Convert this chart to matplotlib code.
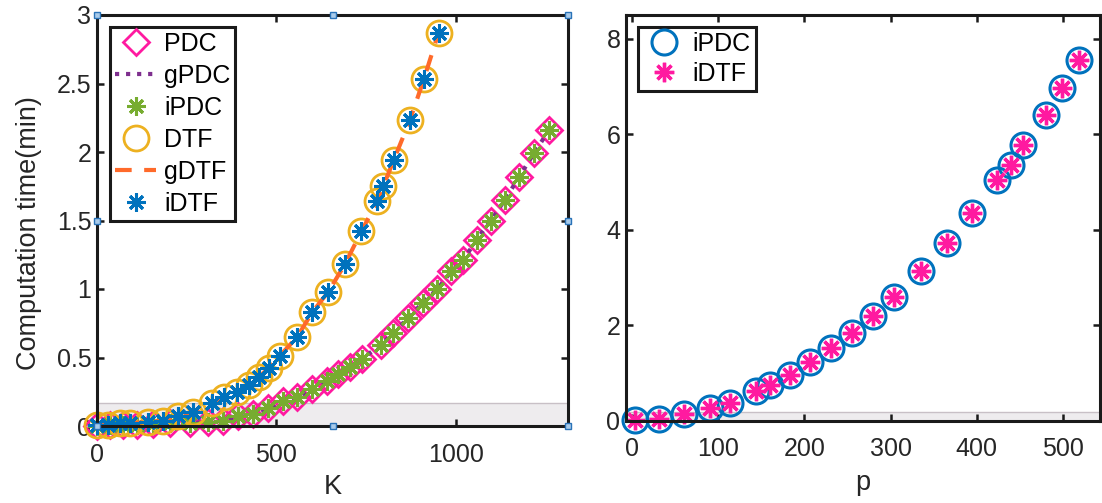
import matplotlib
matplotlib.use("Agg")
import matplotlib.pyplot as plt
from matplotlib.patches import Rectangle

plt.rcParams['font.family'] = ['Liberation Sans', 'DejaVu Sans']

# ---- Left panel data (K vs computation time, min) ----
K_pdc = [0, 36, 73, 111, 157, 204, 259, 310, 352, 394, 436, 478, 518, 557, 598,
         640, 673, 705, 738, 791, 826, 868, 908, 949, 988, 1021, 1058, 1098, 1137,
         1177, 1218, 1260]
t_pdc = [0.0, 0.005, 0.01, 0.01, 0.015, 0.02, 0.02, 0.03, 0.04, 0.07, 0.09, 0.13,
         0.18, 0.21, 0.27, 0.33, 0.38, 0.43, 0.49, 0.59, 0.68, 0.79, 0.90, 1.00,
         1.13, 1.21, 1.36, 1.50, 1.65, 1.82, 1.99, 2.16]

K_dtf = [0, 31, 64, 92, 143, 185, 227, 269, 320, 353, 390, 423, 451, 479, 509,
         558, 600, 645, 691, 737, 781, 798, 827, 872, 911, 952]
t_dtf = [0.01, 0.01, 0.02, 0.02, 0.03, 0.04, 0.07, 0.10, 0.17, 0.21, 0.25, 0.30,
         0.36, 0.42, 0.51, 0.65, 0.83, 0.98, 1.18, 1.42, 1.64, 1.75, 1.94, 2.23,
         2.53, 2.87]

# ---- Right panel data (p vs computation time, min) ----
p_vals = [4, 31, 60, 90, 114, 144, 160, 183, 207, 231, 255, 280, 304, 335, 365,
          394, 424, 440, 454, 480, 499, 519]
t_p = [0.02, 0.04, 0.13, 0.26, 0.37, 0.61, 0.74, 0.96, 1.22, 1.52, 1.84, 2.19,
       2.59, 3.13, 3.73, 4.36, 5.04, 5.36, 5.78, 6.41, 6.97, 7.56]

left_yticks = [0, 0.5, 1, 1.5, 2, 2.5, 3]
left_yticklabels = ['0', '0.5', '1', '1.5', '2', '2.5', '3']
left_xticks = [0, 500, 1000]
right_xticks = [0, 100, 200, 300, 400, 500]
right_yticks = [0, 2, 4, 6, 8]

C_PINK = '#FF1AA0'
C_PURPLE = '#7E2F8E'
C_GREEN = '#77AC30'
C_GOLD = '#EDB120'
C_ORANGE = '#FF6A2A'
C_BLUE = '#0072BD'
TXT = '#262626'
FS = 18
FSL = 19.5

fig = plt.figure(figsize=(11.02, 5.03), dpi=100)
ax1 = fig.add_axes([97/1102, 1-426/503, 471/1102, 411/503])
ax2 = fig.add_axes([626/1102, 1-420.5/503, 474/1102, 405.5/503])

AST = (8, 2, 0)

# left panel
ax1.plot(K_pdc, t_pdc, linestyle='none', marker='D', ms=13.5, mfc='none', mec=C_PINK,
         mew=2, label='PDC', clip_on=False, zorder=3)
ax1.plot(K_pdc, t_pdc, linestyle=':', color=C_PURPLE, lw=3, label='gPDC', zorder=4)
ax1.plot(K_pdc, t_pdc, linestyle='none', marker=AST, ms=13, mec=C_GREEN, mew=2.2,
         label='iPDC', clip_on=False, zorder=5)
ax1.plot(K_dtf, t_dtf, linestyle='none', marker='o', ms=18, mfc='none', mec=C_GOLD,
         mew=2, label='DTF', clip_on=False, zorder=6)
ax1.plot(K_dtf, t_dtf, linestyle=(0, (4, 3)), color=C_ORANGE, lw=3, label='gDTF', zorder=7)
ax1.plot(K_dtf, t_dtf, linestyle='none', marker=AST, ms=13, mec=C_BLUE, mew=2.2,
         label='iDTF', clip_on=False, zorder=8)

ax1.set_xlim(0, 1313)
ax1.set_ylim(0, 3)
ax1.add_patch(Rectangle((0, 0), 1313, 0.165, facecolor='#EEECEE', edgecolor='#C8C0C6',
                        lw=1, zorder=1))
ax1.set_xticks(left_xticks)
ax1.set_yticks(left_yticks)
ax1.set_yticklabels(left_yticklabels)
ax1.set_xlabel('K', fontsize=FSL, color=TXT, va='center')
ax1.set_ylabel('Computation time(min)', fontsize=FSL, color=TXT, va='center')
ax1.xaxis.set_label_coords(0.5, (426 - 487) / 411)
ax1.yaxis.set_label_coords((29 - 97) / 471, 0.47)

leg1 = ax1.legend(loc='upper left', bbox_to_anchor=(0.028, 0.972), fontsize=FS,
                  frameon=True, fancybox=False, edgecolor='#1a1a1a', framealpha=1,
                  handlelength=1.65, handletextpad=0.3, labelspacing=0.32,
                  borderpad=0.2, borderaxespad=0)
leg1.get_frame().set_linewidth(2.2)

# right panel
ax2.plot(p_vals, t_p, linestyle='none', marker='o', ms=18, mfc='none', mec=C_BLUE,
         mew=2.2, label='iPDC', clip_on=False, zorder=3)
ax2.plot(p_vals, t_p, linestyle='none', marker=AST, ms=14, mec=C_PINK, mew=2.4,
         label='iDTF', clip_on=False, zorder=4)
ax2.set_xlim(-7, 543)
ax2.set_ylim(0, 8.5)
ax2.add_patch(Rectangle((-7, 0), 550, 0.17, facecolor='#EEECEE', edgecolor='#C8C0C6',
                        lw=1, zorder=1))
ax2.set_xticks(right_xticks)
ax2.set_yticks(right_yticks)
ax2.set_xlabel('p', fontsize=FSL, color=TXT, va='center')
ax2.xaxis.set_label_coords(0.5, (420.5 - 483) / 405.5)
leg2 = ax2.legend(loc='upper left', bbox_to_anchor=(0.025, 0.97), fontsize=FS,
                  frameon=True, fancybox=False, edgecolor='#1a1a1a', framealpha=1,
                  handlelength=1.7, handletextpad=0.3, labelspacing=0.22,
                  borderpad=0.2, borderaxespad=0)
leg2.get_frame().set_linewidth(2.2)

for ax in (ax1, ax2):
    for s in ax.spines.values():
        s.set_linewidth(2.2)
        s.set_color('#1a1a1a')
        s.set_zorder(10)
    ax.tick_params(direction='in', length=5, width=1.8, top=True, right=True,
                   labelsize=FS, labelcolor=TXT, color='#1a1a1a')
    ax.tick_params(axis='x', pad=12)
    ax.tick_params(axis='y', pad=4)

# selection handles around left axes
for (hx, hy) in [(0, 0), (0.5, 0), (1, 0), (0, 0.5), (1, 0.5), (0, 1), (0.5, 1), (1, 1)]:
    ax1.plot([hx], [hy], marker='s', ms=5, mfc='#A9CBEA', mec='#2A73B8', mew=1,
             transform=ax1.transAxes, clip_on=False, zorder=20)

fig.savefig('out.png', dpi=100)
